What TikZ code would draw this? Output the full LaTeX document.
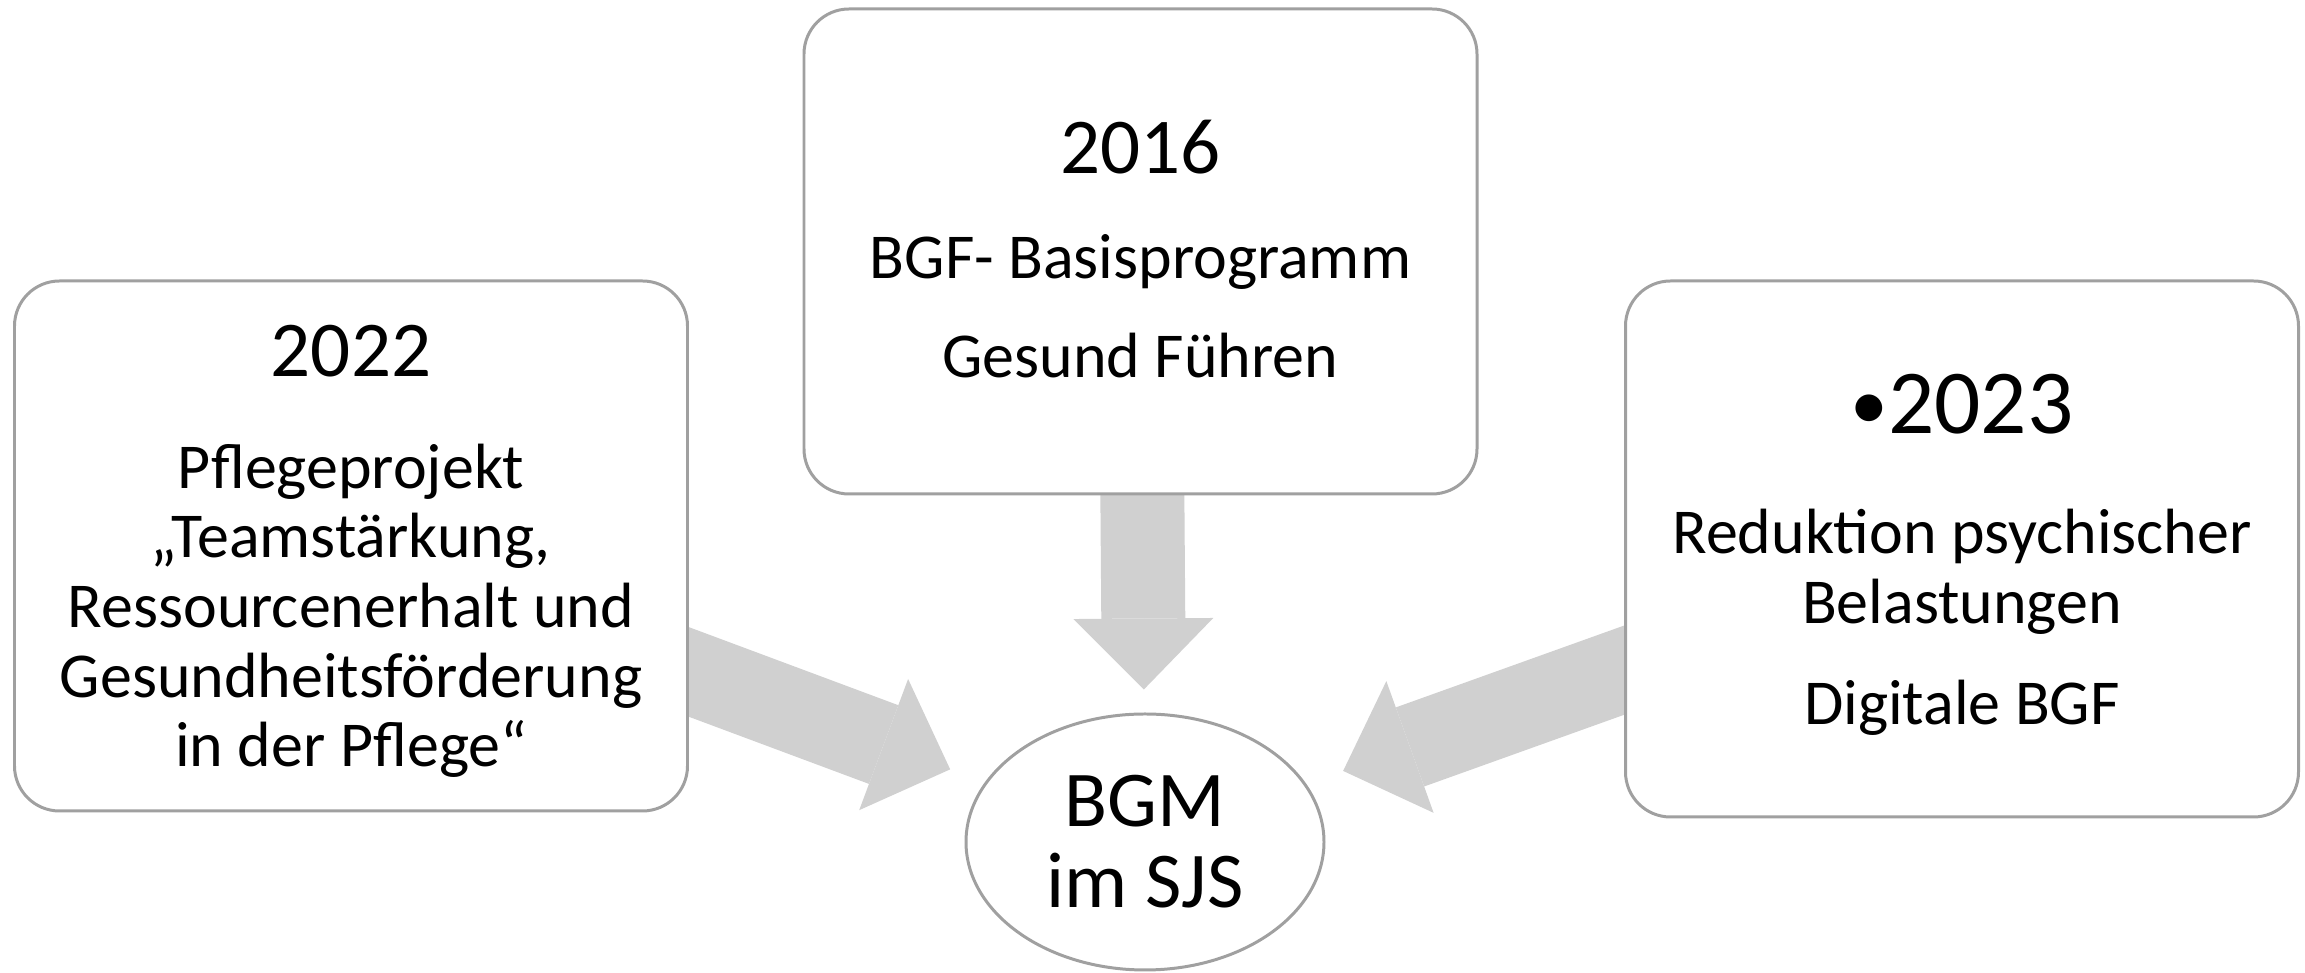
\documentclass[tikz,border=0pt]{standalone}
\usepackage{fontspec}
\setmainfont{Carlito}
\usetikzlibrary{positioning, arrows.meta, shapes, backgrounds}

\definecolor{boxline}{HTML}{A0A0A0}
\definecolor{arrowfill}{HTML}{D0D0D0}
\newcommand{\jahr}[1]{{\fontsize{22.5}{27}\selectfont #1}}
\newcommand{\punkt}{\raisebox{1pt}{\fontsize{21.5}{21.5}\selectfont •}}

\begin{document}
\begin{tikzpicture}[
    box/.style={draw=boxline, line width=0.85pt, rectangle, rounded corners=0.45cm, fill=white,
        minimum width=6.73cm, align=center, font=\fontsize{18.2}{19.8}\selectfont},
    fat/.style={draw=arrowfill, line width=0.84cm,
        -{Triangle[width=1.4cm, length=0.71cm, line width=0pt]}}
]
    \useasboundingbox (0,0) rectangle (23.05,9.73);

    % Nodes
    \node[box, minimum height=4.85cm, text depth=0.06cm] (Start) at (11.405,7.215)
        {\jahr{2016}\\[0.36cm] BGF- Basisprogramm\\[0.29cm] Gesund Führen};
    \node[box, minimum height=5.30cm, text depth=0pt] (Pflege) at (3.51,4.27)
        {\jahr{2022}\\[0.42cm] Pflegeprojekt\\ „Teamstärkung,\\ Ressourcenerhalt und\\ Gesundheitsförderung\\ in der Pflege“};
    \node[box, minimum height=5.36cm, text depth=0pt] (Digital) at (19.62,4.24)
        {{\fontsize{26}{30}\selectfont\punkt2023}\\[0.51cm] Reduktion psychischer\\ Belastungen\\[0.31cm] Digitale BGF};
    \node[draw=boxline, line width=0.85pt, ellipse, fill=white, minimum width=3.58cm, minimum height=2.56cm,
        inner sep=0pt, align=center, font=\fontsize{22.5}{23}\selectfont] (BGM) at (11.45,1.31) {BGM\\im SJS};

    % Paths
    \begin{scope}[on background layer]
        \draw[fat, shorten >=0.37cm] (Pflege.center) -- (BGM);
        \draw[fat, shorten >=0.23cm] (Start.center) -- (BGM);
        \draw[fat, shorten >=0.39cm] (Digital.center) -- (BGM);
    \end{scope}
\end{tikzpicture}
\end{document}
